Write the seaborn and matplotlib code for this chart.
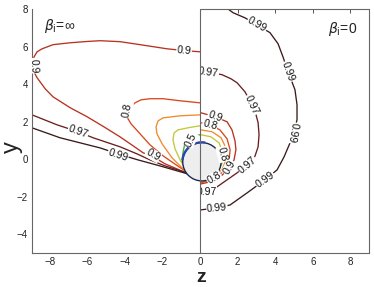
import numpy as np
import pandas as pd
import matplotlib
matplotlib.use("Agg")
import matplotlib.pyplot as plt
import seaborn as sns
from matplotlib.patches import Circle, Arc
from matplotlib.transforms import Bbox, TransformedBbox

# ---------------- data ----------------
# left half (beta_i = inf) contour lines
L09_z = [0, -0.80, -1.76, -3.19, -4.26, -5.32, -6.01, -6.91, -7.82, -8.40, -8.67, -8.83, -8.88,
         -8.78, -8.67, -8.24, -7.82, -6.91, -6.01, -5.11, -4.26, -3.56, -3.03, -2.39, -1.86, -1.22, -0.64]
L09_y = [5.72, 5.78, 5.88, 6.10, 6.26, 6.31, 6.27, 6.20, 6.10, 5.88, 5.72, 5.45, 4.97,
         4.54, 4.34, 3.75, 3.32, 2.74, 2.26, 1.72, 1.19, 0.71, 0.34, 0.07, -0.25, -0.52, -0.79]
L097_z = [-8.94, -7.61, -6.49, -5.69, -4.26, -3.35, -2.66, -1.86, -0.64]
L097_y = [2.36, 1.83, 1.46, 1.14, 0.66, 0.28, -0.04, -0.36, -0.74]
L099_z = [-8.94, -7.45, -5.32, -4.36, -3.30, -2.13, -0.64]
L099_y = [1.67, 1.14, 0.60, 0.28, -0.04, -0.36, -0.79]
L08_z = [0, -1.06, -1.97, -2.66, -3.14, -3.46, -3.72, -3.88, -3.83, -3.67, -3.19, -2.66, -1.97, -1.28, -0.64]
L08_y = [3.00, 3.11, 3.22, 3.22, 3.16, 3.00, 2.74, 2.42, 2.15, 1.88, 1.35, 0.76, 0.18, -0.30, -0.73]
L07_z = [0, -1.06, -1.97, -2.23, -2.34, -2.29, -2.02, -1.49, -0.96, -0.64]
L07_y = [2.36, 2.31, 2.20, 2.04, 1.72, 1.35, 0.82, 0.07, -0.46, -0.73]
L06_z = [0, -0.64, -1.17, -1.38, -1.44, -1.33, -1.06, -0.74]
L06_y = [1.78, 1.67, 1.56, 1.40, 1.03, 0.55, -0.04, -0.57]
L05_z = [0, -0.53, -0.80, -0.90, -0.96]
L05_y = [1.30, 1.19, 0.87, 0.39, -0.14]

# right half (beta_i = 0) contour lines
R099_z = [1.49, 1.76, 2.39, 3.03, 3.72, 4.15, 4.41, 4.68, 4.89, 5.05, 5.16, 5.16, 5.00, 4.79,
          4.47, 4.10, 3.46, 2.50, 1.60, 0.90, 0.05]
R099_y = [8.0, 7.80, 7.53, 7.16, 6.74, 6.15, 5.46, 4.66, 4.12, 3.70, 2.90, 2.10, 1.40, 0.87,
          0.12, -0.57, -1.10, -1.80, -2.44, -2.60, -2.70]
R097_z = [0.05, 0.64, 1.17, 1.65, 1.97, 2.39, 2.77, 2.98, 3.09, 3.14, 3.09, 2.93, 2.77, 2.39,
          1.97, 1.44, 0.90, 0.27, 0.05]
R097_y = [4.66, 4.60, 4.50, 4.28, 4.07, 3.59, 2.90, 2.36, 1.94, 1.30, 0.66, 0.18, -0.14, -0.41,
          -0.73, -1.10, -1.48, -1.64, -1.69]
R09_z = [0.05, 0.80, 1.44, 1.70, 1.86, 1.91, 1.81, 1.54, 1.06, 0.53, 0.05]
R09_y = [2.47, 2.26, 1.99, 1.56, 0.98, 0.50, -0.04, -0.52, -0.95, -1.21, -1.32]
R08_z = [0.05, 0.53, 1.06, 1.44, 1.60, 1.54, 1.28, 0.74, 0.05]
R08_y = [1.94, 1.83, 1.56, 1.08, 0.50, -0.09, -0.62, -1.05, -1.26]
R07_z = [0.05, 0.64, 1.12, 1.38, 1.38, 1.17, 0.64, 0.05]
R07_y = [1.56, 1.46, 1.14, 0.60, -0.04, -0.57, -1.00, -1.21]
R06_z = [0.05, 0.58, 1.01, 1.22, 1.17, 0.85, 0.27]
R06_y = [1.30, 1.19, 0.87, 0.34, -0.25, -0.78, -1.16]

# contour labels
lab_text = ["0.9", "0.9", "0.97", "0.99", "0.9", "0.8", "0.5",
            "0.99", "0.99", "0.99", "0.99", "0.99",
            "0.97", "0.97", "0.97", "0.97",
            "0.9", "0.8", "0.9", "0.8", "0.8"]
lab_z = [-0.85, -8.83, -6.49, -4.36, -2.50, -3.88, -0.50,
         3.03, 4.68, 4.95, 3.46, 0.90,
         0.45, 2.77, 2.50, 0.35,
         0.80, 0.53, 1.55, 0.75, 1.20]
lab_y = [5.78, 4.98, 1.45, 0.23, 0.23, 2.63, 1.03,
         7.16, 4.66, 1.40, -1.10, -2.60,
         4.62, 2.90, -0.30, -1.74,
         2.26, 1.83, -0.45, -1.00, 0.25]
lab_rot = [-5, -88, -20, -18, -30, 78, 65,
           -30, -70, -100, 35, 5,
           -8, -65, 40, 0,
           -20, -15, 60, 30, -75]
lab_clip_right = [False] * 7 + [True] * 14

beta_left = r"$\beta_{\rm i}$=∞"
beta_right = r"$\beta_{\rm i}$=0"
x_ticks = [-8, -6, -4, -2, 0, 2, 4, 6, 8]
y_ticks = [-4, -2, 0, 2, 4, 6, 8]

level_colors = {"0.99": "#3a1a1a", "0.97": "#6a1f1f", "0.9": "#b8321f",
                "0.8": "#d8481e", "0.7": "#f08a2a", "0.6": "#c2c83a", "0.5": "#4aa83a"}

curves = [
    ("L0.9", "0.9", L09_z, L09_y), ("L0.97", "0.97", L097_z, L097_y),
    ("L0.99", "0.99", L099_z, L099_y), ("L0.8", "0.8", L08_z, L08_y),
    ("L0.7", "0.7", L07_z, L07_y), ("L0.6", "0.6", L06_z, L06_y),
    ("L0.5", "0.5", L05_z, L05_y),
    ("R0.99", "0.99", R099_z, R099_y), ("R0.97", "0.97", R097_z, R097_y),
    ("R0.9", "0.9", R09_z, R09_y), ("R0.8", "0.8", R08_z, R08_y),
    ("R0.7", "0.7", R07_z, R07_y), ("R0.6", "0.6", R06_z, R06_y),
]
rows = []
for cid, lvl, zs, ys in curves:
    for i, (zz, yy) in enumerate(zip(zs, ys)):
        rows.append({"curve": cid, "level": lvl, "order": i, "z": zz, "y": yy})
df = pd.DataFrame(rows)

# ---------------- figure ----------------
sns.set_style("white")
plt.rcParams["font.family"] = ["Liberation Sans", "DejaVu Sans"]

fig = plt.figure(figsize=(3.74, 2.87), dpi=100)
ax = fig.add_axes([32 / 374, 1 - 253 / 287, 337 / 374, 244 / 287])

sns.lineplot(data=df, x="z", y="y", hue="level", units="curve", estimator=None,
             sort=False, palette=level_colors, legend=False, linewidth=0.95, ax=ax, zorder=2)

ax.set_xlim(-8.94, 8.99)
ax.set_ylim(-5, 8)
ax.set_xticks(x_ticks)
ax.set_yticks(y_ticks)
ax.set_xlabel("")
ax.set_ylabel("")
ax.tick_params(direction="in", length=3, width=0.7, labelsize=7, color="#555555",
               labelcolor="#222222", pad=3)

spine_c = "#666666"
for s in ["left", "bottom", "right"]:
    ax.spines[s].set_visible(True)
    ax.spines[s].set_color(spine_c)
    ax.spines[s].set_linewidth(0.8)
ax.spines["top"].set_visible(False)
ax.hlines(8, 0, 8.99, color=spine_c, lw=0.8, clip_on=False, zorder=6)
ax.axvline(0, color=spine_c, lw=0.8, zorder=6)

sec = ax.secondary_xaxis("top")
sec.set_xticks([2, 4, 6, 8])
sec.tick_params(direction="in", length=3, width=0.7, color="#555555", labeltop=False)
sec.spines["top"].set_visible(False)

# spherical body
body = Circle((0.1, -0.14), 1.02, facecolor="#eeeeee", edgecolor="#1c2a50", lw=1.0, zorder=3)
ax.add_patch(body)
ax.add_patch(Arc((0.1, -0.14), 2.08, 2.08, theta1=80, theta2=175, color="#2a44b0", lw=1.6, zorder=3.5))

# contour labels
right_box = TransformedBbox(Bbox([[0, -5], [8.99, 8]]), ax.transData)
for t, zz, yy, r, clip in zip(lab_text, lab_z, lab_y, lab_rot, lab_clip_right):
    txt = ax.text(zz, yy, t, fontsize=7.5, ha="center", va="center", rotation=r,
                  rotation_mode="anchor", color="#111111", zorder=4,
                  bbox=dict(boxstyle="square,pad=0.05", fc="white", ec="none"))
    if clip:
        txt.set_clip_box(right_box)
        txt.set_clip_on(True)

ax.text(-8.3, 7.1, beta_left, fontsize=10, ha="left", va="center", color="#222222")
ax.text(6.8, 6.95, beta_right, fontsize=10, ha="left", va="center", color="#222222")

fig.text(12 / 374, 1 - 147 / 287, "y", fontsize=17, rotation=90, ha="center", va="center",
         color="#222222")
fig.text(201 / 374, 1 - 277 / 287, "z", fontsize=14, fontweight="bold", ha="center",
         va="center", color="#222222")

fig.savefig("out.png", dpi=100)
